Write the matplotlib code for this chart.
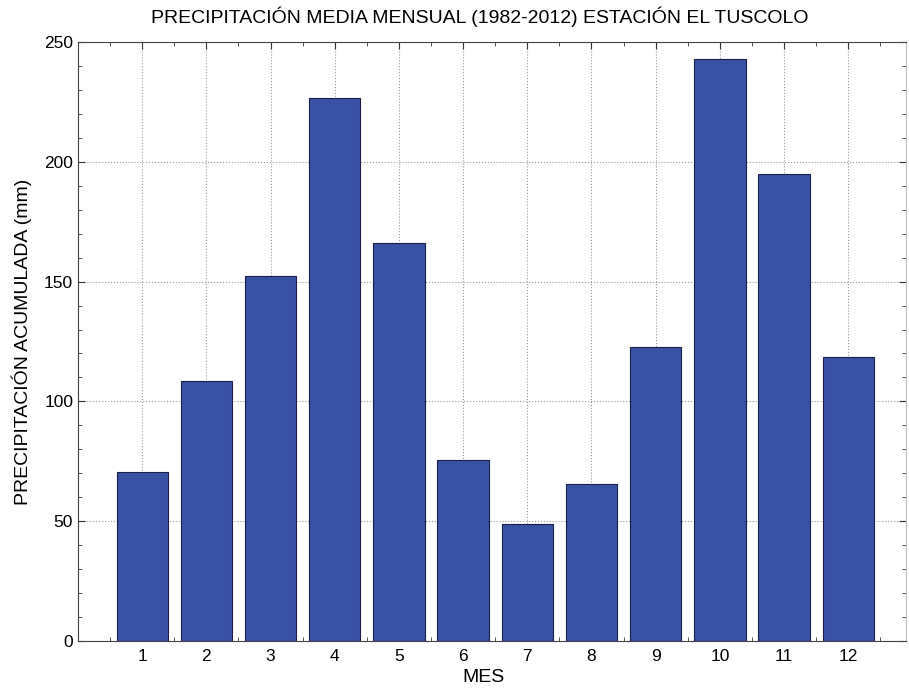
import matplotlib
matplotlib.use("Agg")
import matplotlib.pyplot as plt
from matplotlib.ticker import MultipleLocator

plt.rcParams['font.family'] = ['Liberation Sans', 'DejaVu Sans']

months = [1, 2, 3, 4, 5, 6, 7, 8, 9, 10, 11, 12]
precip = [70.5, 108.5, 152.5, 226.5, 166, 75.5, 49, 65.5, 122.5, 243, 195, 118.5]

fig = plt.figure(figsize=(9.09, 6.9), dpi=100)
ax = fig.add_axes([78 / 909, 49 / 690, 828 / 909, 599 / 690])
ax.bar(months, precip, width=0.8, color='#3a52a5', edgecolor='#1a1f4a', linewidth=0.8, zorder=3)
ax.set_xlim(0, 12.9)
ax.set_ylim(0, 250)
ax.set_xticks(months)
ax.yaxis.set_major_locator(MultipleLocator(50))
ax.yaxis.set_minor_locator(MultipleLocator(10))
ax.xaxis.set_minor_locator(MultipleLocator(0.5))
ax.tick_params(which='both', direction='in', top=True, right=True, labelsize=12.5, colors='#333333', labelcolor='black')
ax.tick_params(which='major', length=5)
ax.tick_params(which='minor', length=3)
ax.tick_params(axis='x', pad=6)
ax.grid(True, which='major', linestyle=':', color='#9a9a9a', linewidth=0.8, zorder=0)
for s in ax.spines.values():
    s.set_color('#444444')
ax.spines['right'].set_color('#bbbbbb')
ax.set_title('PRECIPITACIÓN MEDIA MENSUAL (1982-2012) ESTACIÓN EL TUSCOLO', fontsize=14, pad=14, x=0.485)
ax.set_xlabel('MES', fontsize=14, labelpad=3)
ax.xaxis.set_label_coords(0.49, -0.047)
ax.set_ylabel('PRECIPITACIÓN ACUMULADA (mm)', fontsize=14, labelpad=9)
fig.savefig('out.png', dpi=100)
